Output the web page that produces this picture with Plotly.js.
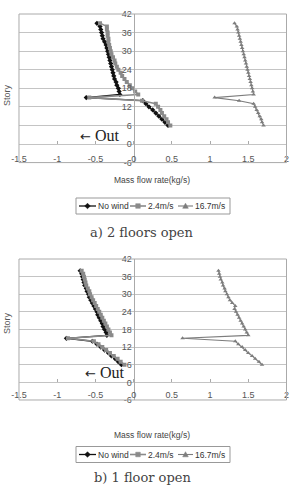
<!DOCTYPE html>
<html>
<head>
<meta charset="utf-8">
<script src="https://cdn.plot.ly/plotly-3.0.1.min.js"></script>
<style>html,body{margin:0;padding:0;background:#fff;}#chart{width:295px;height:490px;}</style>
</head>
<body>
<div id="chart"></div>
<script>
// ---- data: chart a) 2 floors open ----
var storiesA = [6,7,8,9,10,11,12,13,14,15,16,17,18,19,20,21,22,23,24,25,26,27,28,29,30,31,32,33,34,35,36,37,38,39];
var noWindA  = [0.45,0.41,0.37,0.33,0.29,0.25,0.20,0.16,0.12,-0.62,-0.18,-0.19,-0.20,-0.22,-0.23,-0.25,-0.26,-0.27,-0.28,-0.29,-0.30,-0.31,-0.32,-0.33,-0.34,-0.35,-0.36,-0.38,-0.40,-0.41,-0.42,-0.43,-0.44,-0.48];
var wind24A  = [0.48,0.45,0.43,0.40,0.37,0.35,0.32,0.29,0.11,-0.58,0.06,0.02,-0.02,-0.05,-0.09,-0.12,-0.15,-0.17,-0.20,-0.22,-0.24,-0.25,-0.27,-0.29,-0.30,-0.31,-0.32,-0.33,-0.33,-0.34,-0.34,-0.35,-0.35,-0.44];
var wind167A = [1.70,1.68,1.67,1.65,1.63,1.61,1.59,1.57,1.38,1.06,1.57,1.56,1.55,1.54,1.53,1.52,1.51,1.50,1.49,1.48,1.47,1.46,1.45,1.44,1.43,1.42,1.41,1.40,1.39,1.38,1.37,1.36,1.35,1.32];
// ---- data: chart b) 1 floor open ----
var storiesB = [6,7,8,9,10,11,12,13,14,15,16,17,18,19,20,21,22,23,24,25,26,27,28,29,30,31,32,33,34,35,36,37,38];
var noWindB  = [-0.16,-0.20,-0.24,-0.29,-0.33,-0.38,-0.43,-0.48,-0.54,-0.88,-0.35,-0.36,-0.38,-0.40,-0.41,-0.43,-0.45,-0.47,-0.48,-0.50,-0.52,-0.54,-0.56,-0.58,-0.59,-0.61,-0.62,-0.64,-0.65,-0.66,-0.67,-0.68,-0.70];
var wind24B  = [-0.12,-0.17,-0.21,-0.26,-0.31,-0.36,-0.41,-0.46,-0.52,-0.86,-0.29,-0.31,-0.33,-0.35,-0.37,-0.39,-0.41,-0.43,-0.45,-0.47,-0.49,-0.51,-0.53,-0.55,-0.57,-0.58,-0.60,-0.62,-0.63,-0.64,-0.65,-0.66,-0.68];
var wind167B = [1.68,1.64,1.59,1.55,1.50,1.46,1.42,1.37,1.33,0.64,1.50,1.48,1.46,1.44,1.42,1.40,1.38,1.36,1.34,1.32,1.33,1.29,1.26,1.24,1.22,1.20,1.19,1.17,1.16,1.14,1.13,1.12,1.11];
var seriesNames = ['No wind','2.4m/s','16.7m/s'];
var xTicks = [-1.5,-1,-0.5,0,0.5,1,1.5,2];
var yTicks = [-6,0,6,12,18,24,30,36,42];

var W = 295, H = 490;
function px(x){ return x / W; }
function py(y){ return 1 - y / H; }

var styles = [
  {color:'#111111', width:1.3, symbol:'diamond', size:4},
  {color:'#8a8a8a', width:1.6, symbol:'square', size:4},
  {color:'#7d7d7d', width:1.1, symbol:'triangle-up', size:4}
];
function mk(x, y, i, xa, ya){
  var s = styles[i];
  return {x:x, y:y, xaxis:xa, yaxis:ya, type:'scatter', mode:'lines+markers', name:seriesNames[i],
    showlegend:false, line:{color:s.color, width:s.width}, marker:{symbol:s.symbol, size:s.size, color:s.color}};
}
var data = [
  mk(noWindA, storiesA, 0, 'x', 'y'),
  mk(wind24A, storiesA, 1, 'x', 'y'),
  mk(wind167A, storiesA, 2, 'x', 'y'),
  mk(noWindB, storiesB, 0, 'x2', 'y2'),
  mk(wind24B, storiesB, 1, 'x2', 'y2'),
  mk(wind167B, storiesB, 2, 'x2', 'y2'),
  // empty helper traces so the tick-only axes at story 0 are drawn
  {x:[], y:[], xaxis:'x3', yaxis:'y', type:'scatter', showlegend:false, hoverinfo:'skip'},
  {x:[], y:[], xaxis:'x4', yaxis:'y2', type:'scatter', showlegend:false, hoverinfo:'skip'}
];

var sans = 'Liberation Sans, Arial, sans-serif';
var tickFont = {family:sans, size:9, color:'#555'};
var xDom = [0.0644,0.9712];
function xax(pos){
  return {domain:xDom, anchor:'free', position:pos, range:[-1.5,2], tickvals:xTicks, ticktext:xTicks.map(String),
    showgrid:false, zeroline:false, showline:false, ticks:'', tickfont:tickFont, fixedrange:true};
}
function xTickAxis(over, pos){
  return {domain:xDom, overlaying:over, anchor:'free', position:pos, range:[-1.5,2], tickvals:xTicks,
    showgrid:false, zeroline:false, showline:false, ticks:'inside', ticklen:3, tickcolor:'#aaa', tickwidth:1,
    showticklabels:false, fixedrange:true};
}
function yax(dom){
  return {domain:dom, anchor:'free', position:0.4529, range:[-6,42], tickvals:yTicks, ticktext:yTicks.map(String),
    showgrid:true, gridcolor:'#c4c4c4', gridwidth:1, zeroline:false, showline:true, linecolor:'#aaa', ticks:'',
    tickfont:tickFont, fixedrange:true};
}
var serifOut = {family:'Liberation Serif, Times New Roman, serif', size:16, color:'#222'};
var capFont = {family:'DejaVu Serif, serif', size:13, color:'#444'};
var small = {family:sans, size:8.5, color:'#444'};

// legend drawn in paper space
var legendItems = [
  {l0:79, l1:96, m:87.5, tx:97},
  {l0:130, l1:146, m:138, tx:147},
  {l0:178, l1:193, m:185.5, tx:194}
];
var shapes = [
  {type:'rect', xref:'x domain', yref:'y domain', x0:0, x1:1, y0:0, y1:1, line:{color:'#aaa', width:1}},
  {type:'rect', xref:'x2 domain', yref:'y2 domain', x0:0, x1:1, y0:0, y1:1, line:{color:'#aaa', width:1}}
];
var annotations = [];
function markerPath(sym, cx, cy){
  var r = 2.3, p;
  if(sym === 'diamond') p = [[cx, cy-r-0.5],[cx+r+0.5, cy],[cx, cy+r+0.5],[cx-r-0.5, cy]];
  else if(sym === 'square') p = [[cx-r, cy-r],[cx+r, cy-r],[cx+r, cy+r],[cx-r, cy+r]];
  else p = [[cx, cy-r-0.5],[cx+r+0.5, cy+r],[cx-r-0.5, cy+r]];
  return 'M' + p.map(function(q){ return px(q[0]) + ',' + py(q[1]); }).join('L') + 'Z';
}
[206, 454.5].forEach(function(yc){
  shapes.push({type:'rect', xref:'paper', yref:'paper', x0:px(76), x1:px(230), y0:py(yc+8), y1:py(yc-8),
    line:{color:'#999', width:1}, fillcolor:'#fff', layer:'above'});
  legendItems.forEach(function(it, i){
    var s = styles[i];
    shapes.push({type:'line', xref:'paper', yref:'paper', x0:px(it.l0), x1:px(it.l1), y0:py(yc), y1:py(yc),
      line:{color:s.color, width:s.width}, layer:'above'});
    shapes.push({type:'path', xref:'paper', yref:'paper', path:markerPath(s.symbol, it.m, yc),
      fillcolor:s.color, line:{color:s.color, width:0.5}, layer:'above'});
    annotations.push({text:seriesNames[i], xref:'paper', yref:'paper', x:px(it.tx), y:py(yc), xanchor:'left', yanchor:'middle',
      showarrow:false, font:{family:sans, size:8.5, color:'#333'}, borderpad:0});
  });
});

var outText = '<span style="font-family:DejaVu Sans;font-size:13px">\u2190</span> Out';
annotations = annotations.concat([
  {text:'Story', xref:'paper', yref:'paper', x:px(7), y:py(95), textangle:-90, xanchor:'center', yanchor:'middle', showarrow:false, font:{family:sans,size:9,color:'#555'}},
  {text:'Story', xref:'paper', yref:'paper', x:px(7), y:py(323), textangle:-90, xanchor:'center', yanchor:'middle', showarrow:false, font:{family:sans,size:9,color:'#555'}},
  {text:'Mass flow rate(kg/s)', xref:'paper', yref:'paper', x:px(152), y:py(180), xanchor:'center', yanchor:'middle', showarrow:false, font:small},
  {text:'Mass flow rate(kg/s)', xref:'paper', yref:'paper', x:px(152), y:py(435), xanchor:'center', yanchor:'middle', showarrow:false, font:small},
  {text:outText, xref:'paper', yref:'paper', x:px(99), y:py(135), xanchor:'center', yanchor:'middle', showarrow:false, font:serifOut},
  {text:outText, xref:'paper', yref:'paper', x:px(104), y:py(372), xanchor:'center', yanchor:'middle', showarrow:false, font:serifOut},
  {text:'a) 2 floors open', xref:'paper', yref:'paper', x:px(142), y:py(233), xanchor:'center', yanchor:'middle', showarrow:false, font:capFont},
  {text:'b) 1 floor open', xref:'paper', yref:'paper', x:px(142), y:py(477), xanchor:'center', yanchor:'middle', showarrow:false, font:capFont}
]);

var layout = {
  width:W, height:H, margin:{l:0,r:0,t:0,b:0}, paper_bgcolor:'#fff', plot_bgcolor:'#fff', showlegend:false,
  xaxis: xax(py(152)), yaxis: yax([0.6682,0.9714]),
  xaxis2: xax(py(388)), yaxis2: yax([0.1837,0.4714]),
  xaxis3: xTickAxis('x', py(144)),
  xaxis4: xTickAxis('x2', py(382)),
  shapes: shapes,
  annotations: annotations
};
Plotly.newPlot('chart', data, layout, {staticPlot:true, displayModeBar:false});
</script>
</body>
</html>
